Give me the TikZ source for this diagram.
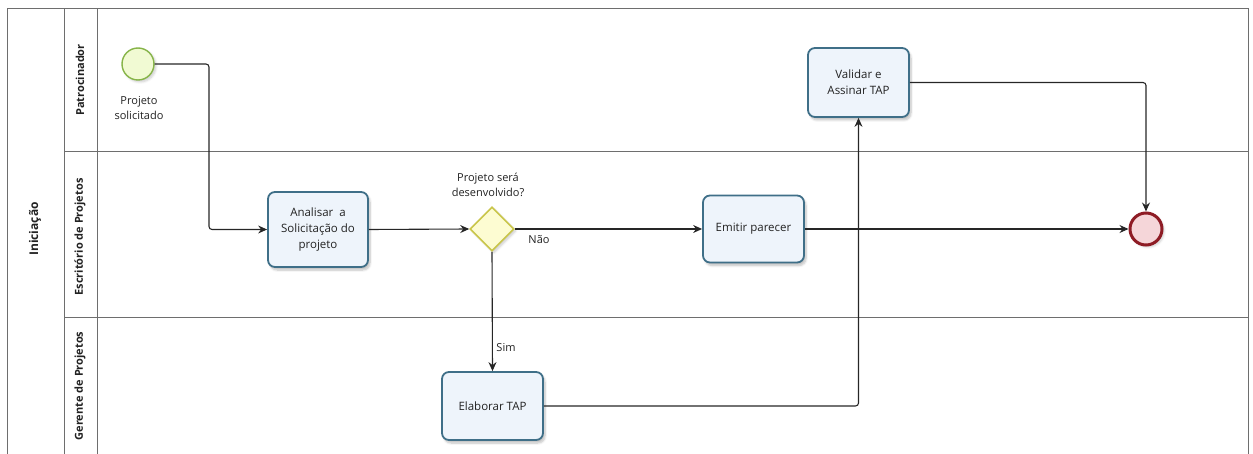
\documentclass[tikz,border=0pt]{standalone}
\usepackage{fontspec}
\setmainfont{Open Sans}
\usetikzlibrary{arrows.meta,shapes.geometric,shadows.blur}

\definecolor{taskborder}{HTML}{3F6F88}
\definecolor{taskfill}{HTML}{EEF4FB}
\definecolor{gwborder}{HTML}{C9C54A}
\definecolor{gwfill}{HTML}{FDFCD2}
\definecolor{startborder}{HTML}{86B448}
\definecolor{startfill}{HTML}{F1FAD3}
\definecolor{endborder}{HTML}{8E1C25}
\definecolor{endfill}{HTML}{F5D6D9}
\definecolor{laneline}{HTML}{6E6E6E}
\definecolor{inktext}{HTML}{222222}

\tikzset{
  x=1pt, y=-1pt,
  lane/.style={draw=laneline, line width=1pt},
  task/.style={draw=taskborder, fill=taskfill, line width=1.8pt, rounded corners=7pt,
    inner sep=0pt, align=center, font=\fontsize{11.5}{16}\selectfont, text=inktext,
    blur shadow={shadow xshift=2pt, shadow yshift=-3pt, shadow opacity=25, shadow blur steps=6}},
  gateway/.style={diamond, draw=gwborder, fill=gwfill, line width=1.6pt,
    minimum width=44pt, minimum height=44pt, inner sep=0pt,
    blur shadow={shadow xshift=2pt, shadow yshift=-2pt, shadow opacity=20, shadow blur steps=5}},
  startev/.style={circle, draw=startborder, fill=startfill, line width=1.4pt,
    minimum size=32pt, inner sep=0pt,
    blur shadow={shadow xshift=2pt, shadow yshift=-2pt, shadow opacity=20, shadow blur steps=5}},
  endev/.style={circle, draw=endborder, fill=endfill, line width=3pt,
    minimum size=32pt, inner sep=0pt,
    blur shadow={shadow xshift=2pt, shadow yshift=-2pt, shadow opacity=20, shadow blur steps=5}},
  flow/.style={draw=black!85, line width=1.1pt, rounded corners=3pt,
    -{Stealth[length=9pt, width=8pt, inset=3pt]}},
  plainlabel/.style={font=\fontsize{11}{15}\selectfont, text=inktext, align=center, inner sep=0pt},
  lanelabel/.style={font=\bfseries\fontsize{11}{13}\selectfont, text=inktext, rotate=90},
  poollabel/.style={font=\bfseries\fontsize{12}{14}\selectfont, text=inktext, rotate=90},
}

\begin{document}
\begin{tikzpicture}
\useasboundingbox (0,0) rectangle (1253,454);

% pool and lane frame
\draw[lane] (7,454) -- (7,9) -- (1248,9) -- (1248,454);
\draw[lane] (64,9) -- (64,454);
\draw[lane] (97,9) -- (97,454);
\draw[lane] (64,152) -- (1248,152);
\draw[lane] (64,318) -- (1248,318);

% pool and lane titles
\node[poollabel] (pool) at (35,229) {Iniciação};
\node[lanelabel] (lane1) at (80,80) {Patrocinador};
\node[lanelabel] (lane2) at (80,237) {Escritório de Projetos};
\node[lanelabel] (lane3) at (80,386) {Gerente de Projetos};

% events, tasks and gateway
\node[startev] (start) at (138,64) {};
\node[plainlabel] (startlbl) at (139,108) {Projeto\\solicitado};

\node[task, minimum width=100pt, minimum height=75pt] (analisar) at (318,229.5)
  {Analisar\ \ a\\Solicitação do\\projeto};
\node[gateway] (gw) at (492,229) {};
\node[plainlabel] (gwlbl) at (488,185) {Projeto será\\desenvolvido?};
\node[task, minimum width=101pt, minimum height=67pt] (emitir) at (753.5,229) {Emitir parecer};
\node[task, minimum width=101pt, minimum height=69pt] (validar) at (858.5,82.5) {Validar e\\Assinar TAP};
\node[task, minimum width=101pt, minimum height=68pt] (elaborar) at (492.5,406) {Elaborar TAP};
\node[endev] (end) at (1146,229) {};

% sequence flows
\draw[flow] (start.east) -- (209,64) |- (analisar.west);
\draw[flow] (analisar.east) -- (gw.west);
\draw[flow] (gw.east) -- (emitir.west);
\node[plainlabel] (nao) at (539,240) {Não};
\draw[flow] (gw.south) -- (elaborar.north);
\node[plainlabel] (sim) at (506,348) {Sim};
\draw[flow] (elaborar.east) -| (validar.south);
\draw[flow] (validar.east) -| (end.north);
\draw[flow] (emitir.east) -- (end.west);
\end{tikzpicture}
\end{document}
